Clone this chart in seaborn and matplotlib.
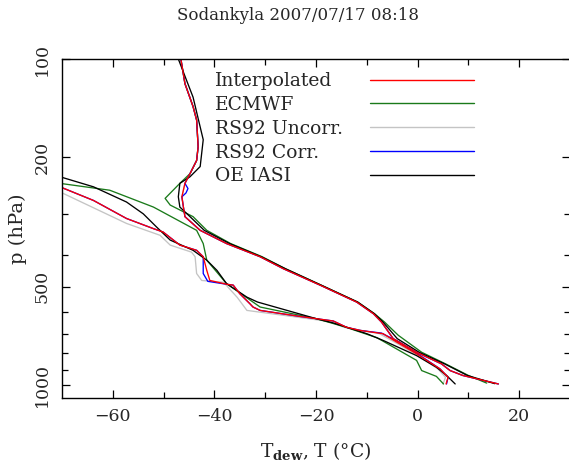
import numpy as np
import pandas as pd
import matplotlib
matplotlib.use("Agg")
import matplotlib.pyplot as plt
import seaborn as sns
from matplotlib.lines import Line2D
from matplotlib.ticker import FixedLocator, NullFormatter, FixedFormatter

# series names, legend order and colours
sources = ["Interpolated", "ECMWF", "RS92 Uncorr.", "RS92 Corr.", "OE IASI"]
colors = ["#ff0000", "#1a7a1a", "#c4c4c4", "#0000ff", "#000000"]
draw_order = ["RS92 Uncorr.", "ECMWF", "RS92 Corr.", "OE IASI", "Interpolated"]

# temperature profiles: pressure (hPa) and T (degC)
interp_t_p = [100, 119, 140, 154, 186, 205, 225, 241, 265, 285, 305, 336, 369, 405, 441, 495, 558, 606, 643, 723, 796, 864, 906, 938, 996]
interp_t = [-46.6, -45.8, -44.2, -43.5, -43.2, -43.5, -44.8, -45.8, -46.4, -46.1, -45.8, -42.8, -37.6, -31.0, -26.4, -19.2, -12.0, -8.7, -7.1, -4.8, -0.2, 4.7, 6.4, 8.9, 15.9]

ecmwf_t_p = [100, 119, 140, 154, 186, 205, 225, 241, 268, 281, 305, 336, 369, 405, 441, 495, 558, 606, 643, 706, 796, 864, 938, 990]
ecmwf_t = [-46.6, -45.8, -44.2, -43.5, -43.2, -43.5, -44.8, -46.8, -49.7, -48.7, -44.2, -41.5, -36.8, -30.6, -26.0, -19.0, -11.8, -8.5, -6.5, -3.8, 0.8, 5.5, 10.0, 13.6]

uncorr_t_p = [100, 119, 140, 154, 186, 205, 225, 241, 265, 285, 305, 336, 369, 405, 441, 495, 558, 606, 643, 723, 796, 864, 906, 938, 996]
uncorr_t = [-46.6, -45.8, -44.2, -43.5, -43.2, -43.5, -44.8, -45.8, -46.4, -46.1, -45.8, -42.8, -37.6, -31.0, -26.4, -19.2, -12.0, -8.7, -7.1, -4.8, -0.2, 4.7, 6.4, 8.9, 15.9]

corr_t_p = [100, 119, 140, 154, 186, 205, 225, 241, 250, 258, 265, 285, 305, 336, 369, 405, 441, 495, 558, 606, 643, 723, 796, 864, 906, 938, 996]
corr_t = [-46.6, -45.8, -44.2, -43.5, -43.2, -43.5, -44.8, -45.8, -45.2, -45.6, -46.4, -46.1, -45.8, -42.8, -37.6, -31.0, -26.4, -19.2, -12.0, -8.7, -7.1, -4.8, -0.2, 4.7, 6.4, 8.9, 15.9]

iasi_t_p = [100, 131, 177, 214, 230, 241, 265, 285, 305, 336, 369, 405, 441, 495, 558, 606, 643, 723, 796, 864, 938, 994]
iasi_t = [-47.1, -44.2, -42.2, -42.8, -44.8, -46.8, -47.1, -46.8, -44.8, -42.0, -37.0, -30.8, -26.0, -19.0, -11.8, -8.5, -6.8, -4.0, 0.3, 5.3, 9.8, 15.2]

# dew point profiles: pressure (hPa) and Tdew (degC)
interp_td_p = [225, 247, 272, 309, 332, 340, 373, 387, 405, 446, 479, 492, 495, 526, 565, 578, 592, 618, 638, 667, 682, 698, 741, 805, 895, 950, 996]
interp_td = [-76.0, -70.4, -63.8, -57.3, -52.0, -50.1, -46.8, -43.5, -42.2, -41.5, -40.9, -37.6, -36.3, -35.0, -33.0, -32.4, -31.0, -23.1, -16.6, -14.0, -11.3, -6.8, -4.1, -0.2, 4.4, 6.0, 5.6]

ecmwf_td_p = [225, 241, 253, 285, 336, 369, 415, 490, 578, 628, 663, 718, 843, 906, 944, 996]
ecmwf_td = [-76.0, -70.4, -60.6, -52.0, -43.5, -42.2, -41.5, -37.6, -31.0, -19.9, -14.6, -8.0, -0.2, 0.8, 3.7, 5.1]

uncorr_td_p = [230, 256, 320, 348, 373, 392, 405, 456, 479, 485, 540, 592, 620, 640, 667, 698, 741, 805, 895, 950, 996]
uncorr_td = [-76.0, -70.4, -57.3, -50.7, -48.7, -44.5, -43.8, -43.5, -42.5, -38.2, -35.5, -33.6, -24.0, -17.5, -14.5, -7.5, -4.5, -0.5, 4.0, 5.5, 5.0]

corr_td_p = [225, 247, 272, 309, 332, 340, 373, 387, 405, 456, 482, 492, 495, 526, 565, 578, 592, 618, 638, 667, 682, 695, 741, 805, 895, 950, 996]
corr_td = [-76.0, -70.4, -63.8, -57.3, -52.0, -50.1, -46.8, -43.5, -42.2, -42.2, -41.3, -37.6, -36.3, -35.0, -33.0, -32.4, -31.0, -23.1, -16.6, -14.0, -11.3, -7.1, -3.6, 0.0, 4.4, 6.0, 5.7]

iasi_td_p = [215, 230, 247, 275, 299, 328, 360, 387, 415, 446, 490, 539, 558, 628, 647, 698, 733, 815, 885, 938, 996]
iasi_td = [-76.0, -70.4, -63.8, -57.3, -54.0, -51.4, -48.7, -44.2, -41.5, -39.5, -37.6, -33.6, -31.5, -19.9, -16.6, -10.0, -6.7, -0.2, 3.7, 5.7, 7.4]

profiles = {
    "Interpolated": (interp_t_p, interp_t, interp_td_p, interp_td),
    "ECMWF": (ecmwf_t_p, ecmwf_t, ecmwf_td_p, ecmwf_td),
    "RS92 Uncorr.": (uncorr_t_p, uncorr_t, uncorr_td_p, uncorr_td),
    "RS92 Corr.": (corr_t_p, corr_t, corr_td_p, corr_td),
    "OE IASI": (iasi_t_p, iasi_t, iasi_td_p, iasi_td),
}

frames = []
for name, (tp, t, dp, td) in profiles.items():
    frames.append(pd.DataFrame({"source": name, "kind": "T", "p": tp, "T": t}))
    frames.append(pd.DataFrame({"source": name, "kind": "Td", "p": dp, "T": td}))
df = pd.concat(frames, ignore_index=True)

sns.set_theme(style="white")
plt.rcParams["font.family"] = ["DejaVu Serif", "DejaVu Sans"]
plt.rcParams["mathtext.fontset"] = "dejavuserif"

W, H = 569, 466
fig = plt.figure(figsize=(W / 100, H / 100), dpi=100)
ax = fig.add_axes([62 / W, 1 - 398 / H, 508 / W, 339 / H])

pal = dict(zip(sources, colors))
sns.lineplot(data=df, x="T", y="p", hue="source", units="kind", estimator=None,
             sort=False, hue_order=draw_order, palette=pal, lw=0.95,
             legend=False, ax=ax)

ax.set_yscale("log")
ax.set_ylim(1100, 100)
ax.set_xlim(-70, 30)
ax.yaxis.set_major_locator(FixedLocator([100, 200, 500, 1000]))
ax.yaxis.set_major_formatter(FixedFormatter(["100", "200", "500", "1000"]))
ax.yaxis.set_minor_locator(FixedLocator([300, 400, 600, 700, 800, 900]))
ax.yaxis.set_minor_formatter(NullFormatter())
ax.xaxis.set_major_locator(FixedLocator([-60, -40, -20, 0, 20]))
ax.xaxis.set_minor_locator(FixedLocator([-50, -30, -10, 10]))

for s in ax.spines.values():
    s.set_color("black")
    s.set_linewidth(1.0)
ax.tick_params(which="both", direction="in", top=True, right=True,
               bottom=True, left=True, color="black", width=0.9, labelsize=12.5)
ax.tick_params(which="major", length=6)
ax.tick_params(which="minor", length=4)
ax.tick_params(axis="x", pad=7)
ax.tick_params(axis="y", pad=8)
for lab in ax.get_yticklabels():
    lab.set_rotation(90)
    lab.set_va("center")

ax.set_xlabel(r"T$_{\mathbf{dew}}$, T (°C)", fontsize=13.5, labelpad=11)
ax.set_ylabel("p (hPa)", fontsize=14, labelpad=5)
fig.text(298 / W, 1 - 16 / H, "Sodankyla 2007/07/17 08:18", ha="center",
         va="center", fontsize=12)

# legend: labels on the left, line samples on the right
blank = [Line2D([], [], alpha=0) for _ in sources]
leg1 = ax.legend(blank, sources, loc="upper left", bbox_to_anchor=(0.301, 0.961),
                 frameon=False, handlelength=0, handletextpad=0, borderpad=0,
                 borderaxespad=0, labelspacing=0.31, fontsize=13.5)
ax.add_artist(leg1)
lines = [Line2D([], [], color=c, lw=1.0) for c in colors]
ax.legend(lines, [""] * len(sources), loc="upper left", bbox_to_anchor=(0.606, 0.961),
          frameon=False, handlelength=5.55, handletextpad=0, borderpad=0,
          borderaxespad=0, labelspacing=0.31, fontsize=13.5)

fig.savefig("out.png", dpi=100)
